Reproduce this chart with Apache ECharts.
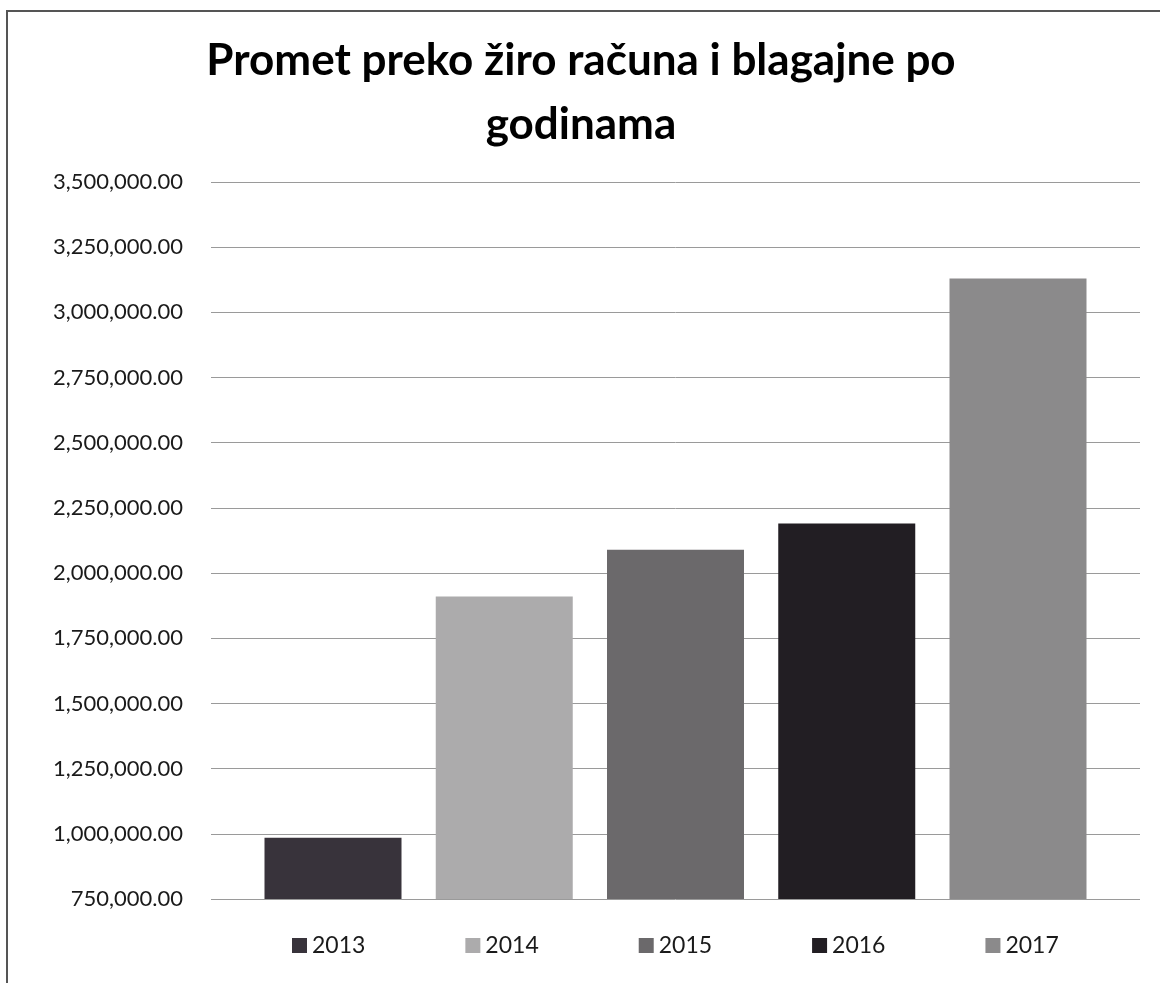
<!DOCTYPE html>
<html>
<head>
<meta charset="utf-8">
<script src="https://cdn.jsdelivr.net/npm/echarts@6/dist/echarts.min.js"></script>
<style>
  html, body { margin: 0; padding: 0; background: #fff; }
  #chart { width: 1160px; height: 983px; }
</style>
</head>
<body>
<div id="chart"></div>
<script>
// godine (svaka je zasebna serija, kao u Excelu)
const years = ['2013', '2014', '2015', '2016', '2017'];
const values = [985000, 1910000, 2090000, 2190000, 3130000];
const barColors = ['#38333b', '#acabac', '#6b696b', '#221e23', '#8b8a8b'];
const categories = ['Promet'];

const myChart = echarts.init(document.getElementById('chart'));

const series = years.map((y, i) => ({
  name: y,
  type: 'bar',
  data: [values[i]],
  barWidth: 137,
  barGap: '25%',
  itemStyle: { color: barColors[i] }
}));

const option = {
  backgroundColor: '#fff',
  animation: false,
  title: {
    text: 'Promet preko žiro računa i blagajne po\ngodinama',
    left: 576,
    top: 24,
    textAlign: 'center',
    textStyle: {
      fontFamily: 'Lato',
      fontWeight: 'bold',
      fontSize: 44,
      lineHeight: 64,
      color: '#000'
    }
  },
  legend: {
    data: years,
    left: 287,
    top: 929,
    itemWidth: 15,
    itemHeight: 15,
    itemGap: 100,
    icon: 'rect',
    textStyle: { fontFamily: 'Lato', fontSize: 23, color: '#1a1a1a' }
  },
  grid: {
    left: 211,
    right: 20,
    top: 182,
    bottom: 84
  },
  xAxis: {
    type: 'category',
    data: categories,
    axisLine: { show: false },
    axisTick: { show: false },
    axisLabel: { show: false }
  },
  yAxis: {
    type: 'value',
    min: 750000,
    max: 3500000,
    interval: 250000,
    axisLine: { show: false },
    axisTick: { show: false },
    axisLabel: {
      margin: 28,
      fontFamily: 'Lato',
      fontSize: 22,
      color: '#1a1a1a',
      formatter: v => v.toLocaleString('en-US', { minimumFractionDigits: 2, maximumFractionDigits: 2 })
    },
    splitLine: { lineStyle: { color: '#9a9a9a', width: 1 } }
  },
  // okvir skeniranog grafikona
  graphic: [
    {
      type: 'polyline',
      shape: { points: [[7, 983], [7, 11], [1160, 11]] },
      style: { stroke: '#555', lineWidth: 2, fill: null }
    }
  ],
  series: series
};

myChart.setOption(option);
</script>
</body>
</html>
